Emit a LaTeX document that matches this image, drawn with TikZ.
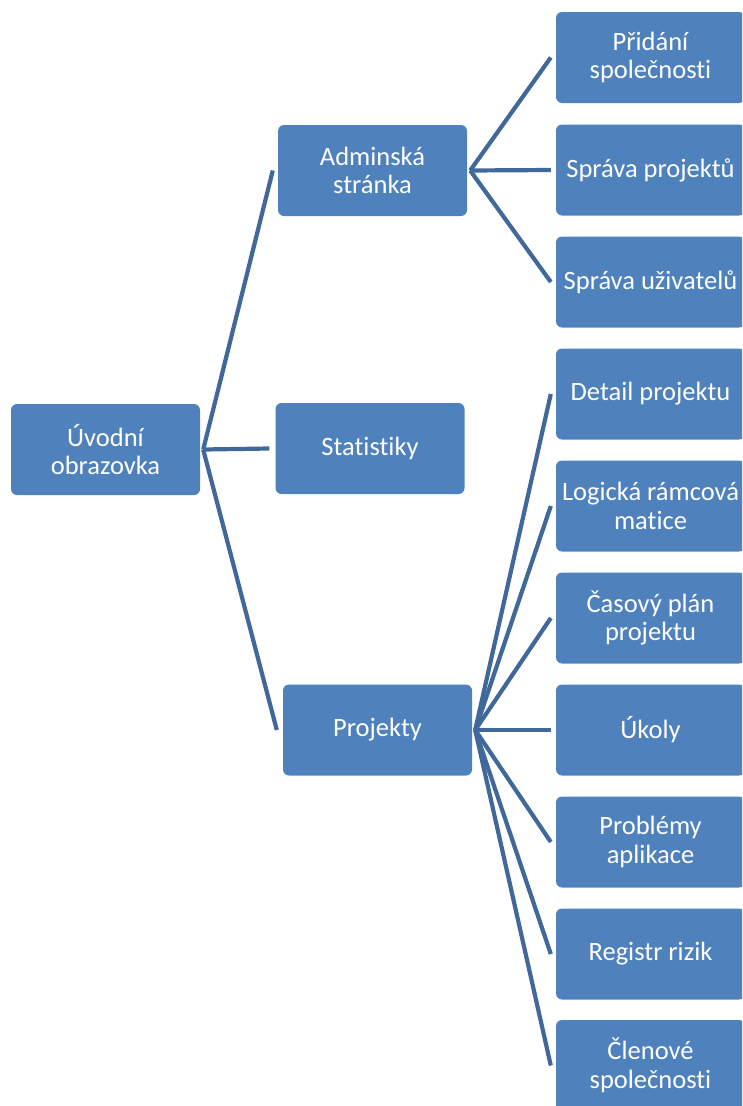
\documentclass[tikz,border=0pt]{standalone}
\usepackage{fontspec}
\setmainfont{Carlito}[Ligatures=NoCommon]
\definecolor{boxblue}{RGB}{79,129,189}
\definecolor{linkblue}{RGB}{64,104,154}
\begin{document}
\begin{tikzpicture}[x=1pt,y=-1pt,
  box/.style={fill=boxblue, rounded corners=6pt, minimum width=189pt, minimum height=91pt,
    inner sep=0pt, align=center, text=white, font=\fontsize{26.5}{28.5}\selectfont},
  conn/.style={draw=linkblue, line width=4.2pt}]
\useasboundingbox (0,0) rectangle (742,1106);
\begin{scope}
\clip (0,0) rectangle (742,1106);
\node[box] (root) at (105.5,449.5) {Úvodní\\obrazovka};
\node[box] (admin) at (372.5,170.5) {Adminská\\stránka};
\node[box] (stat) at (370,448.5) {Statistiky};
\node[box] (proj) at (377.5,730) {Projekty};
\node[box] (r1) at (650.5,57.5) {Přidání\\společnosti};
\node[box] (r2) at (650.5,170) {Správa projektů};
\node[box] (r3) at (650.5,282) {Správa uživatelů};
\node[box] (r4) at (650.5,394) {Detail projektu};
\node[box] (r5) at (650.5,506) {Logická rámcová\\matice};
\node[box] (r6) at (650.5,618) {Časový plán\\projektu};
\node[box] (r7) at (650.5,730) {Úkoly};
\node[box] (r8) at (650.5,842) {Problémy\\aplikace};
\node[box] (r9) at (650.5,954) {Registr rizik};
\node[box] (r10) at (650.5,1065.5) {Členové\\společnosti};
\end{scope}
\draw[conn] ([xshift=3pt]root.east) -- ([xshift=-5pt]admin.west);
\draw[conn] ([xshift=3pt]root.east) -- ([xshift=-6pt]stat.west);
\draw[conn] ([xshift=3pt]root.east) -- ([xshift=-6pt]proj.west);
\foreach \t in {r1,r2,r3}
  \draw[conn] ([xshift=3pt]admin.east) -- ([xshift=-5pt]\t.west);
\foreach \t in {r4,r5,r6,r7,r8,r9,r10}
  \draw[conn] ([xshift=3pt]proj.east) -- ([xshift=-5pt]\t.west);
\end{tikzpicture}
\end{document}
